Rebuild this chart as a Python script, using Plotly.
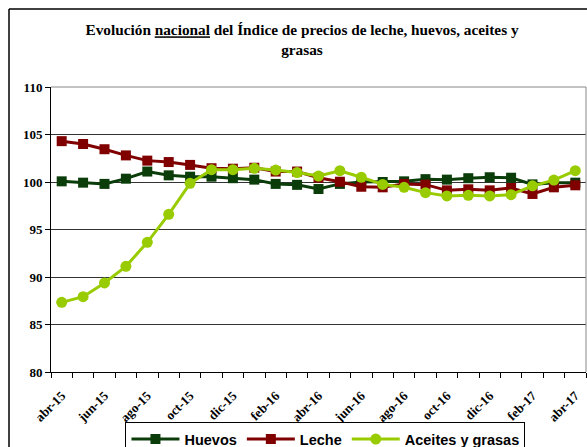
import plotly.graph_objects as go

months = ["abr-15", "may-15", "jun-15", "jul-15", "ago-15", "sep-15", "oct-15", "nov-15",
          "dic-15", "ene-16", "feb-16", "mar-16", "abr-16", "may-16", "jun-16", "jul-16",
          "ago-16", "sep-16", "oct-16", "nov-16", "dic-16", "ene-17", "feb-17", "mar-17", "abr-17"]

huevos = [100.07, 99.93, 99.8, 100.35, 101.1, 100.7, 100.56, 100.56, 100.4, 100.25, 99.8, 99.7,
          99.26, 99.8, 100.0, 100.0, 100.07, 100.3, 100.25, 100.4, 100.5, 100.45, 99.75, 99.93, 99.93]
leche = [104.3, 104.0, 103.45, 102.8, 102.25, 102.1, 101.8, 101.45, 101.4, 101.5, 101.1, 101.1,
         100.45, 100.03, 99.5, 99.44, 99.8, 99.72, 99.12, 99.23, 99.12, 99.37, 98.74, 99.44, 99.65]
aceites = [87.33, 87.93, 89.37, 91.12, 93.65, 96.6, 99.86, 101.3, 101.3, 101.44, 101.26, 101.0,
           100.63, 101.19, 100.5, 99.75, 99.44, 98.88, 98.53, 98.6, 98.53, 98.67, 99.6, 100.2, 101.19]

y_ticks = [80, 85, 90, 95, 100, 105, 110]

x = list(range(len(months)))
label_idx = x[::2]
label_txt = months[::2]

fig = go.Figure()
fig.add_trace(go.Scatter(x=x, y=huevos, name="<b>Huevos</b>", mode="lines+markers",
                         line=dict(color="#0a3d0a", width=3),
                         marker=dict(symbol="square", size=10, color="#0a3d0a")))
fig.add_trace(go.Scatter(x=x, y=leche, name="<b>Leche</b>", mode="lines+markers",
                         line=dict(color="#800000", width=3),
                         marker=dict(symbol="square", size=10, color="#800000")))
fig.add_trace(go.Scatter(x=x, y=aceites, name="<b>Aceites y grasas</b>", mode="lines+markers",
                         line=dict(color="#99cc00", width=3),
                         marker=dict(symbol="circle", size=11, color="#99cc00")))

serif = "Liberation Serif, Times New Roman, serif"

fig.update_layout(
    width=587, height=447,
    margin=dict(l=51, r=1, t=87, b=75, autoexpand=False),
    paper_bgcolor="white", plot_bgcolor="white",
    title=dict(
        text="<b>Evolución <span style=\"text-decoration:underline\">nacional</span> del Índice de precios de leche, huevos, aceites y<br>grasas</b>",
        x=0.5145, xanchor="center", y=0.921, yanchor="top",
        font=dict(family=serif, size=15.3, color="black")),
    showlegend=True,
    legend=dict(orientation="h", x=0.513, xanchor="center", y=-0.176, yanchor="top",
                bgcolor="white", bordercolor="black", borderwidth=1,
                font=dict(family="Liberation Sans, Arial, sans-serif", size=14.5, color="black"),
                itemwidth=48, tracegroupgap=0),
    xaxis=dict(range=[-0.5, len(months) - 0.5], tickmode="array", tickvals=label_idx,
               ticktext=["<b>%s</b>" % t for t in label_txt], tickangle=-45,
               ticks="outside", ticklen=10, tickcolor="rgba(0,0,0,0)",
               showgrid=False, zeroline=False,
               showline=True, linecolor="black", linewidth=1,
               tickfont=dict(family=serif, size=13, color="black")),
    yaxis=dict(range=[80, 110], tickmode="array", tickvals=y_ticks,
               ticktext=["<b>%d</b>" % v for v in y_ticks],
               ticks="outside", ticklen=5, tickcolor="black",
               showgrid=True, gridcolor="#333333", gridwidth=1, zeroline=False,
               showline=True, linecolor="black", linewidth=1,
               tickfont=dict(family=serif, size=13, color="black")),
    shapes=[
        dict(type="line", xref="paper", yref="paper", x0=0, x1=1, y0=1, y1=1,
             line=dict(color="#888888", width=1)),
        dict(type="line", xref="paper", yref="paper", x0=1, x1=1, y0=0, y1=1,
             line=dict(color="#888888", width=1)),
        dict(type="line", xref="paper", yref="paper", x0=-0.0785, x1=-0.0785, y0=-0.3, y1=1.274,
             line=dict(color="black", width=1.5)),
        dict(type="line", xref="paper", yref="paper", x0=-0.0785, x1=1.05, y0=1.274, y1=1.274,
             line=dict(color="black", width=1.5)),
    ],
)
fig.update_xaxes(minor=dict(tickmode="linear", tick0=-0.5, dtick=1, ticks="outside",
                            ticklen=5, tickcolor="black", showgrid=False))

fig.write_html("out.html", config={"displayModeBar": False},
               post_script="document.body.style.margin='0px';document.body.style.overflow='hidden';")
